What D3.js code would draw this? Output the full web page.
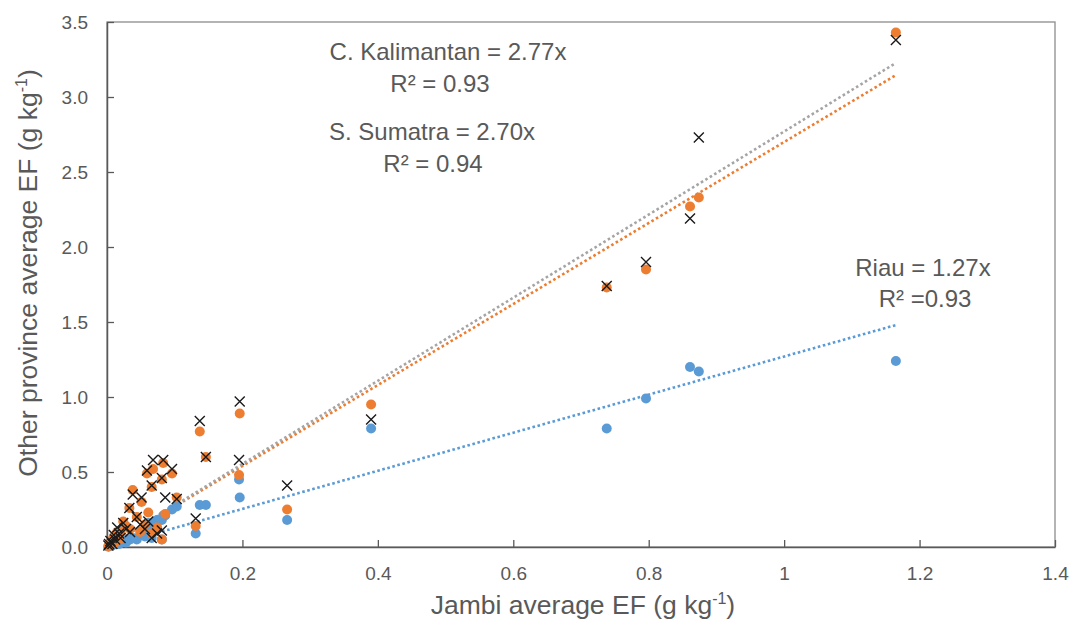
<!DOCTYPE html>
<html>
<head>
<meta charset="utf-8">
<script src="https://cdn.jsdelivr.net/npm/d3@7"></script>
<style>
  html, body { margin: 0; padding: 0; background: #fff; }
  svg { display: block; }
  text { font-family: "Liberation Sans", Arial, sans-serif; fill: #595959; }
</style>
</head>
<body>
<svg id="chart" width="1070" height="622"></svg>
<script>
// ---- data ----
const jambiEF = [1.165, 0.874, 0.861, 0.796, 0.738, 0.390, 0.266, 0.196, 0.195, 0.137, 0.146, 0.131,
  0.068, 0.083, 0.096, 0.059, 0.081, 0.066, 0.038, 0.051, 0.086, 0.103, 0.033, 0.061, 0.024,
  0.074, 0.081, 0.066, 0.049, 0.044, 0.015, 0.010, 0.005, 0.008, 0.020, 0.003, 0.012, 0.028,
  0.018, 0.002, 0.034, 0.056];
const sSumatra = [3.43, 2.33, 2.27, 1.85, 1.73, 0.95, 0.25, 0.89, 0.48, 0.77, 0.60, 0.14,
  0.52, 0.56, 0.49, 0.49, 0.45, 0.40, 0.38, 0.30, 0.22, 0.33, 0.26, 0.23, 0.17,
  0.13, 0.05, 0.09, 0.10, 0.20, 0.10, 0.07, 0.03, 0.05, 0.10, 0.01, 0.03, 0.14,
  0.05, 0.005, 0.12, 0.15];
const cKalimantan = [3.38, 2.73, 2.19, 1.90, 1.74, 0.85, 0.41, 0.97, 0.58, 0.84, 0.60, 0.19,
  0.58, 0.58, 0.52, 0.51, 0.46, 0.41, 0.35, 0.33, 0.33, 0.32, 0.26, 0.17, 0.16,
  0.09, 0.11, 0.06, 0.15, 0.20, 0.13, 0.08, 0.04, 0.02, 0.06, 0.02, 0.05, 0.12,
  0.09, 0.01, 0.10, 0.12];
const riau = [1.24, 1.17, 1.20, 0.99, 0.79, 0.79, 0.18, 0.33, 0.45, 0.28, 0.28, 0.09,
  0.16, 0.21, 0.25, 0.12, 0.18, 0.14, 0.06, 0.08, 0.21, 0.27, 0.05, 0.16, 0.04,
  0.18, 0.05, 0.06, 0.08, 0.05, 0.02, 0.02, 0.01, 0.01, 0.03, 0.005, 0.02, 0.03,
  0.02, 0.002, 0.05, 0.07];
const slopes = { cKalimantan: 2.77, sSumatra: 2.70, riau: 1.27 };
const xTicks = [0, 0.2, 0.4, 0.6, 0.8, 1, 1.2, 1.4];
const xTickLabels = ["0", "0.2", "0.4", "0.6", "0.8", "1", "1.2", "1.4"];
const yTicks = [0, 0.5, 1.0, 1.5, 2.0, 2.5, 3.0, 3.5];

// ---- layout ----
const svg = d3.select("#chart");
const L = 107, R = 1055, T = 22, B = 547;
const x = d3.scaleLinear().domain([0, 1.4]).range([L, R]);
const y = d3.scaleLinear().domain([0, 3.5]).range([B, T]);

const BLUE = "#5b9bd5", ORANGE = "#ed7d31", GRAY = "#a5a5a5";

// plot frame
svg.append("rect").attr("x", L).attr("y", T).attr("width", R - L).attr("height", B - T)
  .attr("fill", "none").attr("stroke", "#8c8c8c").attr("stroke-width", 1.3);

// axes
const xAxis = d3.axisBottom(x).tickValues(xTicks).tickSizeInner(-7).tickSizeOuter(0)
  .tickFormat((d, i) => xTickLabels[i]).tickPadding(20);
const gx = svg.append("g").attr("transform", `translate(0,${B})`).call(xAxis);
gx.select(".domain").attr("stroke", "#595959").attr("stroke-width", 1.5);
gx.selectAll(".tick line").attr("stroke", "#595959").attr("stroke-width", 1.3);
gx.selectAll(".tick text").attr("font-size", 19).attr("fill", "#595959")
  .attr("font-family", '"Liberation Sans", Arial, sans-serif');

const yAxis = d3.axisLeft(y).tickValues(yTicks).tickSizeInner(-7).tickSizeOuter(0)
  .tickFormat(d3.format(".1f")).tickPadding(19);
const gy = svg.append("g").attr("transform", `translate(${L},0)`).call(yAxis);
gy.select(".domain").attr("stroke", "#595959").attr("stroke-width", 1.5);
gy.selectAll(".tick line").attr("stroke", "#595959").attr("stroke-width", 1.3);
gy.selectAll(".tick text").attr("font-size", 19).attr("fill", "#595959")
  .attr("font-family", '"Liberation Sans", Arial, sans-serif');

// trend lines
const xMax = d3.max(jambiEF);
const line = d3.line().x(d => x(d[0])).y(d => y(d[1]));
[[slopes.riau, BLUE], [slopes.sSumatra, ORANGE], [slopes.cKalimantan, GRAY]].forEach(([m, c]) => {
  svg.append("path").datum([[0, 0], [xMax, m * xMax]]).attr("d", line)
    .attr("fill", "none").attr("stroke", c).attr("stroke-width", 2.6)
    .attr("stroke-dasharray", "2.6,2.6");
});

// points
const idx = d3.range(jambiEF.length);
svg.append("g").selectAll("circle").data(idx).join("circle")
  .attr("cx", i => x(jambiEF[i])).attr("cy", i => y(riau[i])).attr("r", 5)
  .attr("fill", BLUE);
svg.append("g").selectAll("circle").data(idx).join("circle")
  .attr("cx", i => x(jambiEF[i])).attr("cy", i => y(sSumatra[i])).attr("r", 5)
  .attr("fill", ORANGE);
const s = 5;
svg.append("g").selectAll("path").data(idx).join("path")
  .attr("transform", i => `translate(${x(jambiEF[i])},${y(cKalimantan[i])})`)
  .attr("d", `M${-s},${-s}L${s},${s}M${-s},${s}L${s},${-s}`)
  .attr("stroke", "#1a1a1a").attr("stroke-width", 1.4).attr("fill", "none");

// annotations
function ann(tx, ty, str) {
  svg.append("text").attr("x", tx).attr("y", ty).attr("text-anchor", "middle")
    .attr("font-size", 24).attr("fill", "#595959").text(str);
}
ann(448, 60, "C. Kalimantan = 2.77x");
ann(440, 92, "R² = 0.93");
ann(432, 140, "S. Sumatra = 2.70x");
ann(433, 172, "R² = 0.94");
ann(923, 276, "Riau = 1.27x");
ann(925, 307, "R² =0.93");

// axis titles
const xt = svg.append("text").attr("x", 583).attr("y", 614).attr("text-anchor", "middle")
  .attr("font-size", 26.5).attr("fill", "#595959");
xt.append("tspan").text("Jambi average EF (g kg");
xt.append("tspan").attr("font-size", 16).attr("dy", -10).text("-1");
xt.append("tspan").attr("dy", 10).text(")");

const yt = svg.append("text").attr("transform", "translate(37,273) rotate(-90)")
  .attr("text-anchor", "middle").attr("font-size", 26.5).attr("fill", "#595959");
yt.append("tspan").text("Other province average EF (g kg");
yt.append("tspan").attr("font-size", 16).attr("dy", -10).text("-1");
yt.append("tspan").attr("dy", 10).text(")");
</script>
</body>
</html>
